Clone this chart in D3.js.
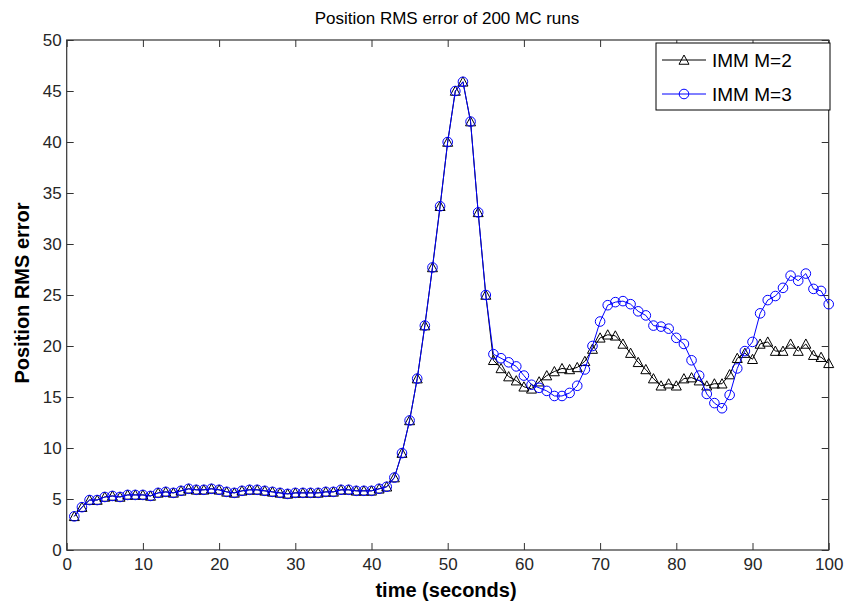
<!DOCTYPE html>
<html>
<head>
<meta charset="utf-8">
<script src="https://cdn.jsdelivr.net/npm/d3@7"></script>
<style>
  html, body { margin: 0; padding: 0; background: #fff; }
  svg { display: block; font-family: "Liberation Sans", Arial, Helvetica, sans-serif; }
</style>
</head>
<body>
<svg id="chart" width="847" height="604"></svg>
<script>
// Simulation time (seconds)
const time = d3.range(1, 101);

// Position RMS error, IMM with 2 models
const immM2 = [
  3.3, 4.2, 4.9, 4.9, 5.2, 5.3, 5.2, 5.4, 5.4, 5.4,
  5.3, 5.6, 5.7, 5.6, 5.8, 6.0, 5.9, 5.9, 6.0, 5.9,
  5.7, 5.6, 5.8, 5.9, 5.9, 5.8, 5.7, 5.6, 5.5, 5.6,
  5.6, 5.6, 5.6, 5.7, 5.7, 5.9, 5.9, 5.8, 5.8, 5.8,
  6.0, 6.2, 7.1, 9.5, 12.7, 16.8, 22.0, 27.7, 33.7, 40.0,
  45.0, 45.9, 42.0, 33.1, 25.0, 18.6, 17.8, 17.0, 16.6, 16.0,
  15.8, 16.5, 17.1, 17.5, 17.8, 17.7, 17.9, 18.5, 19.7, 20.8,
  21.1, 21.0, 20.2, 19.3, 18.4, 17.7, 16.8, 16.1, 16.3, 16.1,
  16.8, 16.9, 16.6, 16.1, 16.3, 16.3, 17.2, 18.8, 19.3, 18.7,
  20.2, 20.4, 19.5, 19.5, 20.2, 19.5, 20.2, 19.1, 18.9, 18.3
];

// Position RMS error, IMM with 3 models
const immM3 = [
  3.3, 4.2, 4.9, 4.9, 5.2, 5.3, 5.2, 5.4, 5.4, 5.4,
  5.3, 5.6, 5.7, 5.6, 5.8, 6.0, 5.9, 5.9, 6.0, 5.9,
  5.7, 5.6, 5.8, 5.9, 5.9, 5.8, 5.7, 5.6, 5.5, 5.6,
  5.6, 5.6, 5.6, 5.7, 5.7, 5.9, 5.9, 5.8, 5.8, 5.8,
  6.0, 6.2, 7.1, 9.5, 12.7, 16.8, 22.0, 27.7, 33.7, 40.0,
  45.0, 45.9, 42.0, 33.1, 25.0, 19.2, 18.8, 18.4, 18.0, 17.1,
  16.2, 15.9, 15.6, 15.1, 15.1, 15.4, 16.1, 17.7, 20.0, 22.4,
  24.0, 24.3, 24.4, 24.1, 23.4, 23.0, 22.0, 21.9, 21.7, 20.8,
  20.2, 18.6, 17.1, 15.3, 14.4, 13.9, 15.2, 17.8, 19.5, 20.4,
  23.2, 24.5, 24.9, 25.7, 26.9, 26.4, 27.1, 25.6, 25.4, 24.1
];

const xTicks = [0, 10, 20, 30, 40, 50, 60, 70, 80, 90, 100];
const yTicks = [0, 5, 10, 15, 20, 25, 30, 35, 40, 45, 50];
const seriesNames = ["IMM M=2", "IMM M=3"];

const series = [
  { name: seriesNames[0], values: immM2, color: "#000000", marker: "triangle" },
  { name: seriesNames[1], values: immM3, color: "#0000ff", marker: "circle" }
];

const svg = d3.select("#chart");
const plotLeft = 66.7, plotRight = 828.7, plotTop = 40, plotBottom = 550;

const x = d3.scaleLinear().domain([0, 100]).range([plotLeft, plotRight]);
const y = d3.scaleLinear().domain([0, 50]).range([plotBottom, plotTop]);

const textColor = "#262626";
const tickLen = 7;

// Axes: ticks point inward on all four sides
const axisBottom = d3.axisBottom(x).tickValues(xTicks).tickSize(-tickLen).tickPadding(8).tickFormat(d3.format("d"));
const axisTop = d3.axisTop(x).tickValues(xTicks).tickSize(-tickLen).tickFormat("");
const axisLeft = d3.axisLeft(y).tickValues(yTicks).tickSize(-tickLen).tickPadding(5).tickFormat(d3.format("d"));
const axisRight = d3.axisRight(y).tickValues(yTicks).tickSize(-tickLen).tickFormat("");

function styleAxis(g) {
  g.select(".domain").remove();
  g.selectAll(".tick line").attr("stroke", "#333").attr("stroke-width", 1);
  g.selectAll(".tick text").attr("fill", textColor).style("font-size", "17px")
    .style("font-family", "'Liberation Sans', Arial, sans-serif");
}

svg.append("g").attr("transform", `translate(0,${plotBottom})`).call(axisBottom).call(styleAxis);
svg.append("g").attr("transform", `translate(0,${plotTop})`).call(axisTop).call(styleAxis);
svg.append("g").attr("transform", `translate(${plotLeft},0)`).call(axisLeft).call(styleAxis);
svg.append("g").attr("transform", `translate(${plotRight},0)`).call(axisRight).call(styleAxis);

// Plot box
svg.append("rect")
  .attr("x", plotLeft).attr("y", plotTop)
  .attr("width", plotRight - plotLeft).attr("height", plotBottom - plotTop)
  .attr("fill", "none").attr("stroke", "#333").attr("stroke-width", 1.2);

const triPath = (cx, cy, s) => `M${cx},${cy - s}L${cx + s},${cy + s * 0.85}L${cx - s},${cy + s * 0.85}Z`;

const line = d3.line().x((d, i) => x(time[i])).y(d => y(d));

series.forEach(s => {
  const g = svg.append("g");
  g.append("path")
    .attr("d", line(s.values))
    .attr("fill", "none").attr("stroke", s.color).attr("stroke-width", 1);
  if (s.marker === "triangle") {
    g.selectAll("path.m").data(s.values).enter().append("path")
      .attr("class", "m")
      .attr("d", (d, i) => triPath(x(time[i]), y(d), 5))
      .attr("fill", "none").attr("stroke", s.color).attr("stroke-width", 1);
  } else {
    g.selectAll("circle").data(s.values).enter().append("circle")
      .attr("cx", (d, i) => x(time[i])).attr("cy", d => y(d)).attr("r", 4.8)
      .attr("fill", "none").attr("stroke", s.color).attr("stroke-width", 1);
  }
});

// Title and axis labels
svg.append("text").attr("x", 447).attr("y", 24).attr("text-anchor", "middle")
  .style("font-size", "17px").attr("fill", "#000").text("Position RMS error of 200 MC runs");
svg.append("text").attr("x", 446).attr("y", 597).attr("text-anchor", "middle")
  .style("font-size", "20px").style("font-weight", "bold").attr("fill", "#000").text("time (seconds)");
svg.append("text").attr("transform", "translate(29,293) rotate(-90)").attr("text-anchor", "middle")
  .style("font-size", "20px").style("font-weight", "bold").attr("fill", "#000").text("Position RMS error");

// Legend
const lg = svg.append("g");
const lx = 656, ly = 43, lw = 174, lh = 67;
lg.append("rect").attr("x", lx).attr("y", ly).attr("width", lw).attr("height", lh)
  .attr("fill", "#fff").attr("stroke", "#000").attr("stroke-width", 1);
series.forEach((s, i) => {
  const cy = ly + 17 + i * 34;
  lg.append("line").attr("x1", lx + 6).attr("x2", lx + 50).attr("y1", cy).attr("y2", cy)
    .attr("stroke", s.color).attr("stroke-width", 1);
  if (s.marker === "triangle") {
    lg.append("path").attr("d", triPath(lx + 28, cy, 5)).attr("fill", "none").attr("stroke", s.color);
  } else {
    lg.append("circle").attr("cx", lx + 28).attr("cy", cy).attr("r", 4.8).attr("fill", "none").attr("stroke", s.color);
  }
  lg.append("text").attr("x", lx + 56).attr("y", cy + 7).style("font-size", "19px")
    .attr("fill", "#000").text(s.name);
});
</script>
</body>
</html>
